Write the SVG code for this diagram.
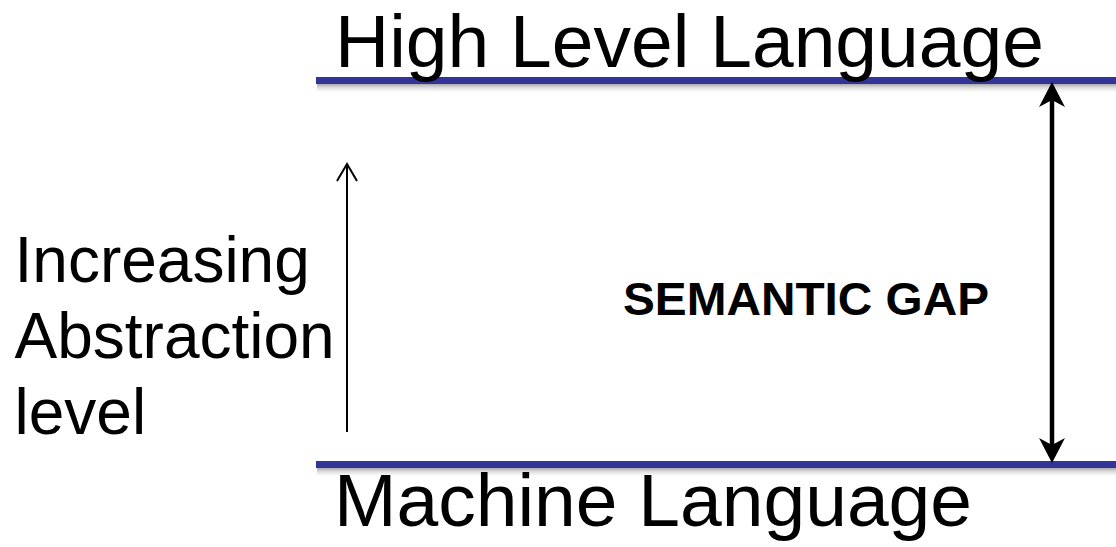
<svg xmlns="http://www.w3.org/2000/svg" width="1116" height="547" viewBox="0 0 1116 547">
  <style>
    .label { font-family: "Liberation Sans", Arial, sans-serif; fill: #000; }
    .level { font-size: 75px; }
    .side { font-size: 64px; }
    .gap { font-size: 47px; font-weight: bold; }
    .bar { fill: #333399; }
  </style>
  <defs>
    <linearGradient id="shadow" x1="0" y1="0" x2="0" y2="1">
      <stop offset="0" stop-color="#8a8a8a" stop-opacity="0.75"/>
      <stop offset="1" stop-color="#ffffff" stop-opacity="0"/>
    </linearGradient>
    <!-- solid notched head for the gap arrow -->
    <marker id="solidHead" markerUnits="userSpaceOnUse" viewBox="0 0 25 26" markerWidth="25" markerHeight="26" refX="7" refY="13" orient="auto-start-reverse" overflow="visible">
      <path d="M0 0 L25 13 L0 26 L7 13 Z" fill="#000"/>
    </marker>
    <!-- open head for the thin abstraction arrow -->
    <marker id="openHead" markerUnits="userSpaceOnUse" viewBox="0 0 18 22" markerWidth="18" markerHeight="22" refX="17" refY="11" orient="auto" overflow="visible">
      <path d="M0 1 L17 11 L0 21" fill="none" stroke="#000" stroke-width="2"/>
    </marker>
  </defs>

  <rect width="1116" height="547" fill="#fff"/>

  <g id="high-level">
    <rect x="317" y="84" width="799" height="10" fill="url(#shadow)"/>
    <rect class="bar" x="316" y="77" width="800" height="7"/>
    <text class="label level" x="335" y="67">High Level Language</text>
  </g>

  <g id="machine-level">
    <rect x="317" y="468" width="799" height="10" fill="url(#shadow)"/>
    <rect class="bar" x="316" y="461" width="800" height="7"/>
    <text class="label level" x="334" y="526">Machine Language</text>
  </g>

  <g id="abstraction-label">
    <text class="label side" x="14.5" y="282">Increasing</text>
    <text class="label side" x="14.5" y="358">Abstraction</text>
    <text class="label side" x="14.5" y="434">level</text>
  </g>

  <g id="gap-label">
    <text class="label gap" x="623" y="315" textLength="366" lengthAdjust="spacingAndGlyphs">SEMANTIC GAP</text>
  </g>

  <g id="connectors">
    <line x1="347" y1="432" x2="347" y2="164" stroke="#000" stroke-width="2" marker-end="url(#openHead)"/>
    <line x1="1052" y1="100" x2="1052" y2="445" stroke="#000" stroke-width="4.5" marker-start="url(#solidHead)" marker-end="url(#solidHead)"/>
  </g>
</svg>
